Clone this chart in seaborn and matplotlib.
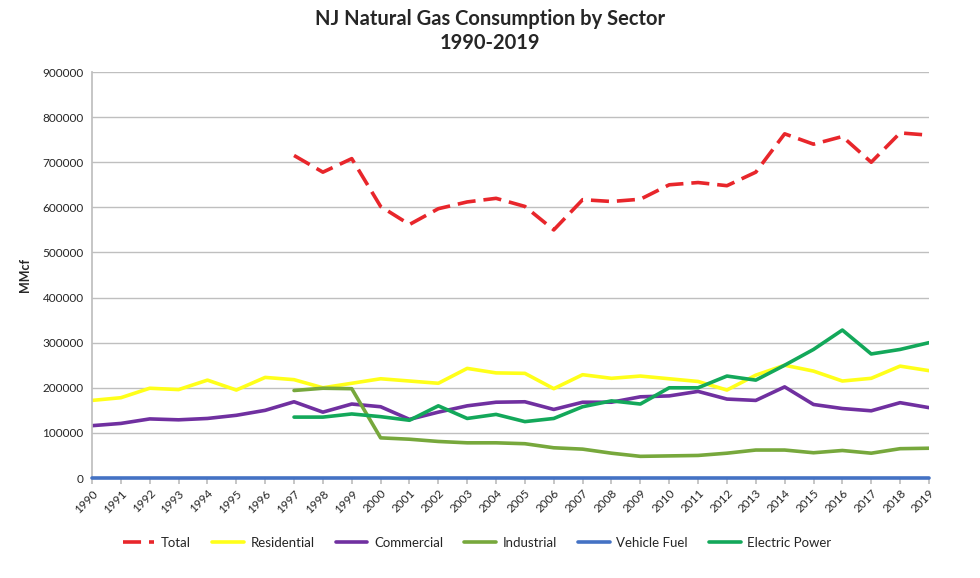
import numpy as np
import pandas as pd
import matplotlib
matplotlib.use("Agg")
import matplotlib.pyplot as plt
import seaborn as sns

sns.set_theme(style="white")
plt.rcParams["font.family"] = ["Lato", "DejaVu Sans"]

# --- dati (MMcf) ---
years = list(range(1990, 2020))
na = [np.nan] * 7  # 1990-1996 senza dati

total = na + [715000, 678000, 708000, 602000, 562000, 597000, 612000, 620000,
              602000, 550000, 617000, 613000, 618000, 650000, 655000, 648000,
              678000, 763000, 740000, 757000, 700000, 765000, 760000]
residential = [172000, 178000, 199000, 196000, 217000, 195000, 223000, 218000,
               200000, 210000, 220000, 215000, 210000, 243000, 233000, 232000,
               198000, 229000, 221000, 226000, 220000, 214000, 195000, 228000,
               250000, 237000, 215000, 221000, 248000, 238000]
commercial = [116000, 121000, 131000, 129000, 132000, 139000, 150000, 169000,
              146000, 164000, 158000, 130000, 146000, 160000, 168000, 169000,
              152000, 168000, 168000, 180000, 182000, 192000, 175000, 172000,
              202000, 163000, 154000, 149000, 167000, 156000]
industrial = na + [194000, 199000, 198000, 89000, 86000, 81000, 78000, 78000,
                   76000, 67000, 64000, 55000, 48000, 49000, 50000, 55000,
                   62000, 62000, 56000, 61000, 55000, 65000, 66000]
vehicle_fuel = [0] * 30
electric_power = na + [135000, 135000, 142000, 136000, 128000, 160000, 132000,
                       141000, 125000, 132000, 158000, 171000, 164000, 200000,
                       200000, 226000, 217000, 250000, 285000, 328000, 275000,
                       285000, 300000]

series = {
    "Total": total,
    "Residential": residential,
    "Commercial": commercial,
    "Industrial": industrial,
    "Vehicle Fuel": vehicle_fuel,
    "Electric Power": electric_power,
}
colors = {
    "Total": "#e8262b",
    "Residential": "#ffff1a",
    "Commercial": "#7030a0",
    "Industrial": "#77a83c",
    "Vehicle Fuel": "#4472c4",
    "Electric Power": "#13a85a",
}

df = pd.DataFrame({"Year": years, **series}).melt(
    id_vars="Year", var_name="Sector", value_name="MMcf"
)

fig = plt.figure(figsize=(9.8, 5.78), dpi=100)
ax = fig.add_axes([0.0939, 0.173, 0.854, 0.7024])

for name in series:
    sub = df[df["Sector"] == name]
    sns.lineplot(
        data=sub, x="Year", y="MMcf", ax=ax, color=colors[name],
        linewidth=2.6, label=name,
    )
ax.lines[0].set_dashes([5, 2.2])
# la linea Vehicle Fuel sta sullo zero: non tagliarla
ax.lines[4].set_clip_on(False)
ax.lines[4].set_zorder(5)

ax.set_xlim(1990, 2019)
ax.set_ylim(0, 900000)
ax.set_yticks(range(0, 900001, 100000))
ax.set_xticks(years)
ax.set_xticklabels([str(y) for y in years], rotation=45, ha="right",
                   rotation_mode="anchor", fontsize=8.5)
ax.tick_params(axis="y", labelsize=8.5, length=0, pad=6)
ax.tick_params(axis="x", length=4, color="#bfbfbf", bottom=True, pad=3)
ax.grid(axis="y", color="#bfbfbf", linewidth=1)
ax.set_xlabel("")
ax.set_ylabel("MMcf", fontsize=9, fontweight="bold", labelpad=8)

for s in ["top", "right"]:
    ax.spines[s].set_visible(False)
ax.spines["left"].set_color("#bfbfbf")
ax.spines["bottom"].set_color("#bfbfbf")

fig.suptitle("NJ Natural Gas Consumption by Sector\n1990-2019",
             fontsize=14.5, fontweight="bold", y=0.985, linespacing=1.3)

ax.legend(loc="upper center", bbox_to_anchor=(0.46, -0.115), ncol=6,
          frameon=False, fontsize=9.5, handlelength=2.4, columnspacing=1.6,
          handletextpad=0.5)

fig.savefig("out.png", dpi=100)
